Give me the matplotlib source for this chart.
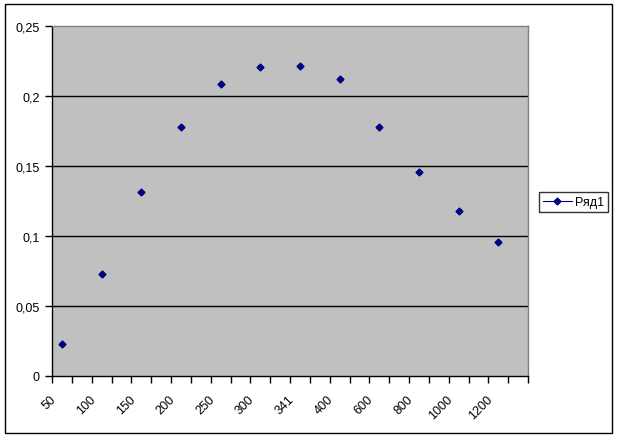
import matplotlib
matplotlib.use("Agg")
import matplotlib.pyplot as plt
import matplotlib.transforms as mtransforms
from matplotlib.patches import Rectangle
from matplotlib.ticker import FixedLocator, NullFormatter

# data
categories = ['50', '100', '150', '200', '250', '300', '341',
              '400', '600', '800', '1000', '1200']
values = [0.0229, 0.0729, 0.1314, 0.1779, 0.2086, 0.2207, 0.2214,
          0.2121, 0.1779, 0.1459, 0.1179, 0.0957]
y_ticks = [0, 0.05, 0.1, 0.15, 0.2, 0.25]
y_labels = ['0', '0,05', '0,1', '0,15', '0,2', '0,25']

plt.rcParams['font.family'] = ['Liberation Sans', 'DejaVu Sans']
plt.rcParams['font.size'] = 9

fig = plt.figure(figsize=(6.18, 4.39), dpi=100)
fig.patch.set_facecolor('white')

# outer chart border
fig.patches.append(Rectangle((5 / 618, 5 / 439), 607 / 618, 429 / 439,
                             transform=fig.transFigure, fill=False,
                             edgecolor='black', linewidth=1.0))

ax = fig.add_axes([52 / 618, 62 / 439, 476 / 618, 350 / 439])
ax.set_facecolor('#c0c0c0')

# excel category axis: 24 slots, data in every other one
x = [2 * i + 0.5 for i in range(len(categories))]
ax.plot(x, values, linestyle='none', marker='D', markersize=3.5,
        color='#000080', label='Ряд1')

ax.set_xlim(0, 24)
ax.set_ylim(0, 0.25)

ax.set_yticks(y_ticks)
ax.set_yticklabels(y_labels)
for yv in y_ticks[1:-1]:
    ax.axhline(yv, color='black', linewidth=1.0, zorder=1)

ax.set_xticks(x)
ax.set_xticklabels(categories, rotation=45, ha='right', va='center',
                   rotation_mode='anchor')
ax.xaxis.set_minor_locator(FixedLocator(range(25)))
ax.xaxis.set_minor_formatter(NullFormatter())
ax.tick_params(axis='x', which='major', length=0, pad=15)
ax.tick_params(axis='x', which='minor', length=5, direction='out', width=1)
ax.tick_params(axis='y', length=5, direction='out', width=1, pad=4)

offset = mtransforms.ScaledTranslation(-8 / 100, 0, fig.dpi_scale_trans)
for lbl in ax.get_xticklabels():
    lbl.set_transform(lbl.get_transform() + offset)

for side in ['left', 'bottom']:
    ax.spines[side].set_color('black')
    ax.spines[side].set_linewidth(1.0)
for side in ['top', 'right']:
    ax.spines[side].set_color('#808080')
    ax.spines[side].set_linewidth(1.0)

leg = ax.legend(loc='center left', bbox_to_anchor=(539 / 618, 236 / 439),
                bbox_transform=fig.transFigure, frameon=True, fancybox=False,
                edgecolor='black', handlelength=2.3, borderpad=0.3,
                handletextpad=0.3, borderaxespad=0)
leg.get_frame().set_linewidth(1.0)
leg.legend_handles[0].set_linestyle('-')
leg.legend_handles[0].set_linewidth(0.8)

fig.savefig('out.png', dpi=100)
